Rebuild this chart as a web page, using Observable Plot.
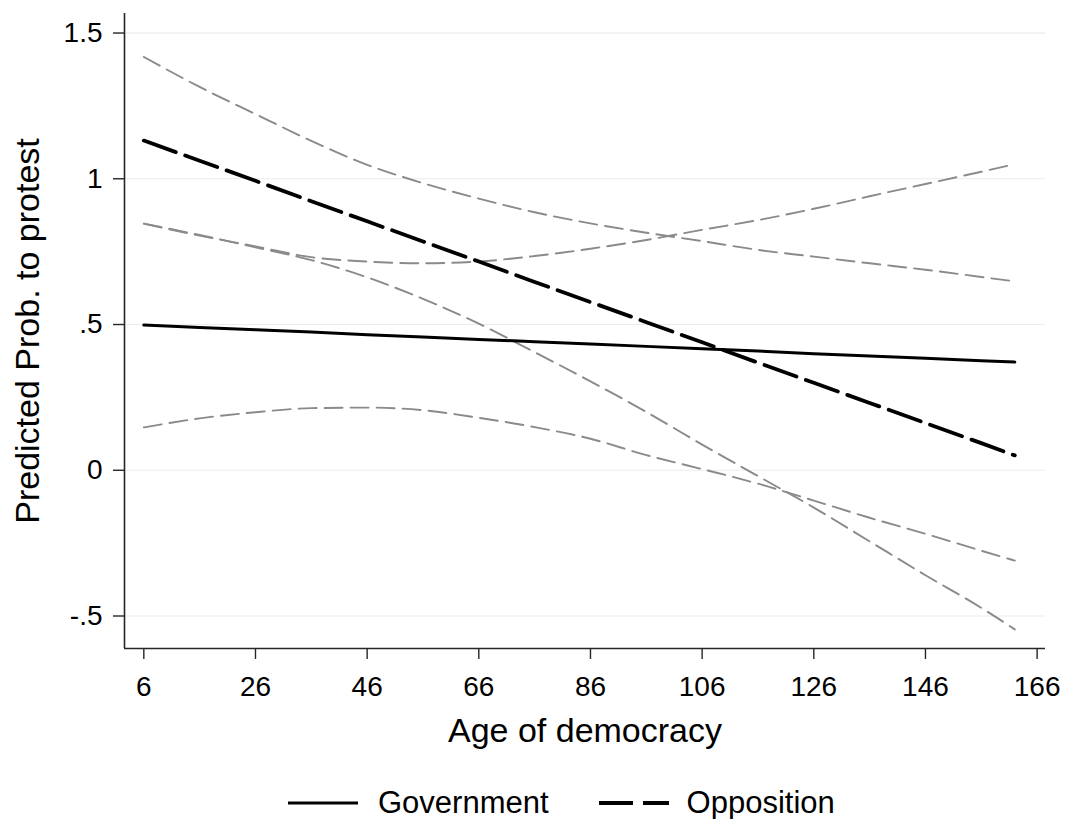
<!DOCTYPE html>
<html>
<head>
<meta charset="utf-8">
<script src="https://cdn.jsdelivr.net/npm/d3@7"></script>
<script src="https://cdn.jsdelivr.net/npm/@observablehq/plot@0.6"></script>
<style>
  body { margin: 0; background: #fff; font-family: "Liberation Sans", Arial, sans-serif; }
  #wrap { position: relative; width: 1066px; height: 819px; overflow: hidden; }
  #legend { position: absolute; top: 783px; left: 288px; height: 40px; display: flex; align-items: center; font-size: 31px; color: #000; }
  g[aria-label="y-axis label"] text, g[aria-label="x-axis label"] text { font-size: 34px; }
</style>
</head>
<body>
<div id="wrap"><div id="chart"></div><div id="legend"></div></div>
<script>
// ---- data ----
const ages = [6, 16, 26, 36, 46, 56, 66, 76, 86, 96, 106, 116, 126, 136, 146, 156, 162];

const govFit   = [0.498, 0.490, 0.482, 0.474, 0.465, 0.457, 0.449, 0.441, 0.433, 0.425, 0.417, 0.409, 0.400, 0.392, 0.384, 0.376, 0.371];
const govUpper = [0.846, 0.805, 0.768, 0.731, 0.716, 0.710, 0.716, 0.735, 0.760, 0.790, 0.825, 0.858, 0.897, 0.940, 0.982, 1.024, 1.050];
const govLower = [0.147, 0.178, 0.199, 0.213, 0.215, 0.206, 0.180, 0.148, 0.108, 0.052, 0.004, -0.046, -0.104, -0.163, -0.218, -0.276, -0.310];

const oppFit   = [1.131, 1.062, 0.993, 0.923, 0.854, 0.785, 0.716, 0.646, 0.577, 0.508, 0.439, 0.369, 0.300, 0.231, 0.162, 0.093, 0.051];
const oppUpper = [1.418, 1.315, 1.222, 1.130, 1.048, 0.985, 0.932, 0.885, 0.847, 0.815, 0.786, 0.756, 0.733, 0.710, 0.688, 0.663, 0.648];
const oppLower = [0.846, 0.807, 0.765, 0.721, 0.662, 0.588, 0.503, 0.405, 0.305, 0.200, 0.088, -0.020, -0.128, -0.244, -0.360, -0.472, -0.546];

const seriesNames = ["Government", "Opposition"];
const xTicks = [6, 26, 46, 66, 86, 106, 126, 146, 166];
const yTicks = [-0.5, 0, 0.5, 1, 1.5];
const yTickLabels = ["-.5", "0", ".5", "1", "1.5"];
const xDomain = [2.54, 167.5];
const yDomain = [-0.6115, 1.567];

const rows = vals => ages.map((a, i) => ({ age: a, value: vals[i] }));

const ciStyle = { x: "age", y: "value", stroke: "#8a8a8a", strokeWidth: 1.9, strokeDasharray: "18,8", curve: "monotone-x" };

const chart = Plot.plot({
  width: 1066,
  height: 760,
  marginLeft: 124,
  marginRight: 21,
  marginTop: 13,
  marginBottom: 112,
  style: { fontFamily: "Liberation Sans, Arial, sans-serif", fontSize: "28px", color: "#000", background: "#fff", overflow: "visible" },
  x: { domain: xDomain },
  y: { domain: yDomain },
  marks: [
    Plot.gridY(yTicks, { stroke: "#ececec", strokeOpacity: 1, strokeWidth: 1.2 }),
    Plot.line(rows(govUpper), ciStyle),
    Plot.line(rows(govLower), ciStyle),
    Plot.line(rows(oppUpper), ciStyle),
    Plot.line(rows(oppLower), ciStyle),
    Plot.line(rows(govFit), { x: "age", y: "value", stroke: "#000", strokeWidth: 3 }),
    Plot.line(rows(oppFit), { x: "age", y: "value", stroke: "#000", strokeWidth: 3.8, strokeDasharray: "34,10" }),
    Plot.ruleX([xDomain[0]], { stroke: "#262626", strokeWidth: 1.6 }),
    Plot.ruleY([yDomain[0]], { stroke: "#262626", strokeWidth: 1.6 }),
    Plot.axisY(yTicks, {
      tickSize: 11, tickPadding: 11, stroke: "#262626", strokeWidth: 1.4, fill: "#000", fontSize: 28,
      tickFormat: d => yTickLabels[yTicks.indexOf(d)],
      label: "Predicted Prob. to protest", labelAnchor: "center", labelArrow: "none", labelOffset: 110
    }),
    Plot.axisX(xTicks, {
      tickSize: 11, tickPadding: 17, stroke: "#262626", strokeWidth: 1.4, fill: "#000", fontSize: 28,
      tickFormat: d => String(d),
      label: "Age of democracy", labelAnchor: "center", labelArrow: "none", labelOffset: 93
    })
  ]
});
document.getElementById("chart").appendChild(chart);

// ---- legend ----
const legendStyles = [
  { width: 3, dash: null },
  { width: 3.8, dash: "34,10" }
];
const legend = document.getElementById("legend");
seriesNames.forEach((name, i) => {
  const s = legendStyles[i];
  const ns = "http://www.w3.org/2000/svg";
  const svg = document.createElementNS(ns, "svg");
  svg.setAttribute("width", 70);
  svg.setAttribute("height", 10);
  if (i > 0) svg.style.marginLeft = "50px";
  const ln = document.createElementNS(ns, "line");
  ln.setAttribute("x1", 0); ln.setAttribute("x2", 70);
  ln.setAttribute("y1", 5); ln.setAttribute("y2", 5);
  ln.setAttribute("stroke", "#000");
  ln.setAttribute("stroke-width", s.width);
  if (s.dash) ln.setAttribute("stroke-dasharray", s.dash);
  svg.appendChild(ln);
  legend.appendChild(svg);
  const span = document.createElement("span");
  span.textContent = name;
  span.style.marginLeft = i === 0 ? "20px" : "18px";
  legend.appendChild(span);
});
</script>
</body>
</html>
